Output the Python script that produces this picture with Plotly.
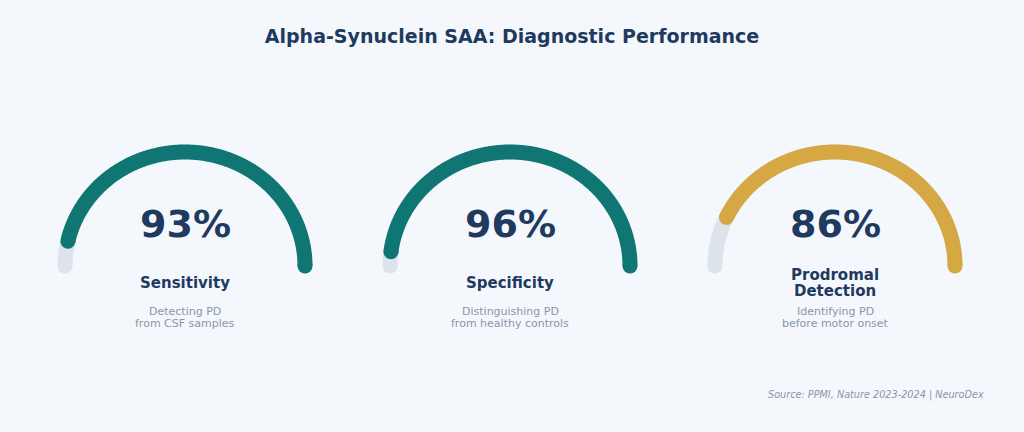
import numpy as np
import plotly.graph_objects as go

# ---- data ----
metrics = ["Sensitivity", "Specificity", "Prodromal<br>Detection"]
values = [93, 96, 86]
descriptions = ["Detecting PD<br>from CSF samples",
                "Distinguishing PD<br>from healthy controls",
                "Identifying PD<br>before motor onset"]
title_text = "Alpha-Synuclein SAA: Diagnostic Performance"
source_text = "Source: PPMI, Nature 2023-2024 | NeuroDex"

# ---- styles ----
TEAL = "#0f7673"
GOLD = "#d5a843"
TRACK = "#dde3ea"
NAVY = "#1e3a5f"
DESC = "#8a95a7"
BG = "#f4f8fc"
arc_colors = [TEAL, TEAL, GOLD]
FONT = "DejaVu Sans"
W, H = 1024, 432
CY, RY = 266.0, 114.0          # pixel row of gauge baseline, vertical radius in px
RX = 120.0                      # horizontal radius in px
centers = [185, 510, 835]
HALF = 150                      # half-width of each gauge subplot (px)
LW = 15


def ypx(p):
    return (CY - p) / RY


fig = go.Figure()

for i, (val, col) in enumerate(zip(values, arc_colors)):
    xa = "x" if i == 0 else f"x{i+1}"
    # background track
    t = np.linspace(0, np.pi, 361)
    fig.add_trace(go.Scatter(x=np.cos(t), y=np.sin(t), mode="lines",
                             line=dict(color=TRACK, width=LW, simplify=False),
                             xaxis=xa, yaxis="y", hoverinfo="skip", showlegend=False))
    fig.add_trace(go.Scatter(x=[np.cos(0), np.cos(np.pi)], y=[np.sin(0), np.sin(np.pi)],
                             mode="markers", marker=dict(color=TRACK, size=LW, line=dict(width=0)),
                             xaxis=xa, yaxis="y", hoverinfo="skip", showlegend=False))
    # value arc, from right end counter-clockwise
    end = np.pi * val / 100.0
    tv = np.linspace(0, end, 361)
    fig.add_trace(go.Scatter(x=np.cos(tv), y=np.sin(tv), mode="lines",
                             line=dict(color=col, width=LW, simplify=False),
                             xaxis=xa, yaxis="y", hoverinfo="skip", showlegend=False))
    fig.add_trace(go.Scatter(x=[np.cos(0), np.cos(end)], y=[np.sin(0), np.sin(end)],
                             mode="markers", marker=dict(color=col, size=LW, line=dict(width=0)),
                             xaxis=xa, yaxis="y", hoverinfo="skip", showlegend=False))

    # percentage text
    fig.add_annotation(x=0, y=ypx(224), xref=xa, yref="y", text=f"{val}%",
                       showarrow=False, xanchor="center", yanchor="middle",
                       font=dict(family=FONT, size=38, color=NAVY, weight="bold"))
    # metric label lines
    lab_lines = metrics[i].split("<br>")
    n = len(lab_lines)
    for j, ln in enumerate(lab_lines):
        yp = 283 + (j - (n - 1) / 2) * 16
        fig.add_annotation(x=0, y=ypx(yp), xref=xa, yref="y", text=ln,
                           showarrow=False, xanchor="center", yanchor="middle",
                           font=dict(family=FONT, size=15, color=NAVY, weight="bold"))
    # description lines
    for j, ln in enumerate(descriptions[i].split("<br>")):
        yp = 311 + j * 12.5
        fig.add_annotation(x=0, y=ypx(yp), xref=xa, yref="y", text=ln,
                           showarrow=False, xanchor="center", yanchor="middle",
                           font=dict(family=FONT, size=11, color=DESC))

fig.add_annotation(x=986 / W, y=1 - 395 / H, xref="paper", yref="paper", text=source_text,
                   showarrow=False, xanchor="right", yanchor="middle",
                   font=dict(family=FONT, size=9.7, color=DESC, style="italic"))

axis_common = dict(visible=False, showgrid=False, zeroline=False, fixedrange=True)
layout_axes = {}
for i, c in enumerate(centers):
    key = "xaxis" if i == 0 else f"xaxis{i+1}"
    layout_axes[key] = dict(domain=[(c - HALF) / W, (c + HALF) / W],
                            range=[-HALF / RX, HALF / RX], anchor="y", **axis_common)
layout_axes["yaxis"] = dict(domain=[0, 1], range=[ypx(H), ypx(0)], **axis_common)

fig.update_layout(
    width=W, height=H,
    margin=dict(l=0, r=0, t=0, b=0),
    paper_bgcolor=BG, plot_bgcolor=BG,
    title=dict(text=title_text, x=0.5, xanchor="center", xref="paper",
               y=1 - 36 / H, yref="container", yanchor="middle",
               font=dict(family=FONT, size=19, color=NAVY, weight="bold")),
    showlegend=False,
    **layout_axes,
)

fig.write_html("out.html", config={"displayModeBar": False},
               post_script="document.body.style.margin='0';document.body.style.overflow='hidden';")
